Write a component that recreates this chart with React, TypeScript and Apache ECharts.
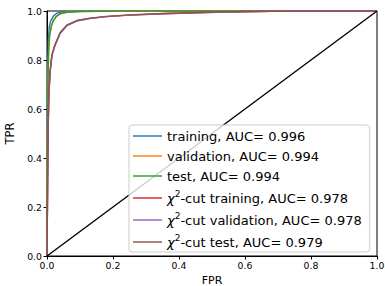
import React, { useEffect, useRef } from "react";
import * as echarts from "echarts";

const seriesNames = [
  "training, AUC= 0.996",
  "validation, AUC= 0.994",
  "test, AUC= 0.994",
  "χ2-cut training, AUC= 0.978",
  "χ2-cut validation, AUC= 0.978",
  "χ2-cut test, AUC= 0.979",
];

const colors = ["#1f77b4", "#ff7f0e", "#2ca02c", "#d62728", "#9467bd", "#8c564b"];

const trainingRoc = [
  [0, 0], [0.001, 0.5], [0.002, 0.75], [0.004, 0.88], [0.007, 0.935], [0.01, 0.955],
  [0.014, 0.966], [0.02, 0.98], [0.029, 0.99], [0.04, 0.995], [0.06, 0.998], [0.1, 0.999],
  [0.2, 1], [1, 1],
];
const validationRoc = [
  [0, 0], [0.001, 0.45], [0.003, 0.72], [0.005, 0.84], [0.008, 0.905], [0.014, 0.943],
  [0.02, 0.963], [0.028, 0.978], [0.04, 0.99], [0.06, 0.995], [0.1, 0.998], [0.2, 0.9995],
  [0.4, 1], [1, 1],
];
const testRoc = [
  [0, 0], [0.001, 0.44], [0.003, 0.71], [0.005, 0.835], [0.008, 0.9], [0.014, 0.942],
  [0.02, 0.962], [0.028, 0.977], [0.04, 0.989], [0.06, 0.995], [0.1, 0.998], [0.2, 0.9995],
  [0.4, 1], [1, 1],
];
const chiTrainingRoc = [
  [0, 0], [0.002, 0.3], [0.004, 0.55], [0.006, 0.67], [0.01, 0.76], [0.015, 0.82],
  [0.024, 0.86], [0.04, 0.91], [0.06, 0.941], [0.09, 0.96], [0.13, 0.97], [0.18, 0.977],
  [0.25, 0.983], [0.35, 0.989], [0.48, 0.994], [0.58, 0.997], [0.68, 0.999], [0.78, 1], [1, 1],
];
const chiValidationRoc = [
  [0, 0], [0.002, 0.3], [0.004, 0.55], [0.006, 0.67], [0.01, 0.758], [0.015, 0.818],
  [0.024, 0.858], [0.04, 0.908], [0.06, 0.94], [0.09, 0.959], [0.13, 0.969], [0.18, 0.977],
  [0.25, 0.983], [0.35, 0.989], [0.48, 0.994], [0.58, 0.997], [0.68, 0.999], [0.78, 1], [1, 1],
];
const chiTestRoc = [
  [0, 0], [0.002, 0.31], [0.004, 0.56], [0.006, 0.68], [0.01, 0.762], [0.015, 0.822],
  [0.024, 0.862], [0.04, 0.912], [0.06, 0.942], [0.09, 0.961], [0.13, 0.971], [0.18, 0.978],
  [0.25, 0.984], [0.35, 0.99], [0.48, 0.995], [0.58, 0.997], [0.68, 0.999], [0.78, 1], [1, 1],
];
const diagonal = [[0, 0], [1, 1]];

const rocData = [trainingRoc, validationRoc, testRoc, chiTrainingRoc, chiValidationRoc, chiTestRoc];

const FONT = "DejaVu Sans";

export default function App() {
  const ref = useRef<HTMLDivElement>(null);
  useEffect(() => {
    document.body.style.margin = "0";
    if (!ref.current) return;
    const chart = echarts.init(ref.current, undefined, { renderer: "svg" });
    const series: any[] = rocData.map((d, i) => ({
      name: seriesNames[i],
      type: "line",
      data: d,
      showSymbol: false,
      symbol: "none",
      lineStyle: { color: colors[i], width: 1.4 },
      itemStyle: { color: colors[i] },
    }));
    series.push({
      name: "diag",
      type: "line",
      data: diagonal,
      symbol: "none",
      lineStyle: { color: "#000", width: 1.4 },
    });
    chart.setOption({
      animation: false,
      grid: {
        left: 47, top: 11, width: 330, height: 245,
        outerBoundsMode: "none",
        containLabel: false,
        show: true, borderColor: "#000", borderWidth: 1, backgroundColor: "transparent",
      },
      legend: {
        data: seriesNames,
        orient: "vertical",
        left: 129,
        top: 125,
        padding: [4, 8, 3, 4],
        itemWidth: 29,
        itemHeight: 10,
        itemGap: 6,
        icon: "path://M0 0 H30 V1.5 H0 Z",
        symbolKeepAspect: true,
        backgroundColor: "rgba(255,255,255,0.8)",
        borderColor: "#cccccc",
        borderWidth: 1,
        borderRadius: 3,
        formatter: (name: string) => {
          if (name.startsWith("χ2")) {
            return "{i|χ}{s|2}{t|" + name.slice(2) + "}";
          }
          return "{t|" + name + "}";
        },
        textStyle: {
          fontFamily: FONT,
          fontSize: 13,
          color: "#000",
          lineHeight: 14,
          rich: {
            t: { fontFamily: FONT, fontSize: 13, color: "#000", lineHeight: 14 },
            i: { fontFamily: FONT, fontSize: 13, fontStyle: "italic", color: "#000", lineHeight: 14 },
            s: { fontFamily: FONT, fontSize: 9, color: "#000", verticalAlign: "bottom", padding: [0, 0, 7, 0], lineHeight: 14 },
          },
        },
      },
      xAxis: {
        type: "value",
        min: 0,
        max: 1,
        interval: 0.2,
        name: "FPR",
        nameLocation: "middle",
        nameGap: 18,
        nameTextStyle: { fontFamily: FONT, fontSize: 11, color: "#000" },
        axisLine: { lineStyle: { color: "#000", width: 1 } },
        axisTick: { show: true, length: 3.5, lineStyle: { color: "#000" } },
        axisLabel: {
          fontFamily: FONT, fontSize: 9.3, color: "#000", margin: 5,
          formatter: (v: number) => v.toFixed(1),
        },
        splitLine: { show: false },
      },
      yAxis: {
        type: "value",
        min: 0,
        max: 1,
        interval: 0.2,
        name: "TPR",
        nameLocation: "middle",
        nameGap: 21,
        nameRotate: 90,
        nameTextStyle: { fontFamily: FONT, fontSize: 11.5, color: "#000" },
        axisLine: { lineStyle: { color: "#000", width: 1 } },
        axisTick: { show: true, length: 3.5, lineStyle: { color: "#000" } },
        axisLabel: {
          fontFamily: FONT, fontSize: 9.3, color: "#000", margin: 5,
          formatter: (v: number) => v.toFixed(1),
        },
        splitLine: { show: false },
      },
      series,
    });
    return () => chart.dispose();
  }, []);
  return <div ref={ref} style={{ width: 385, height: 286 }} />;
}
